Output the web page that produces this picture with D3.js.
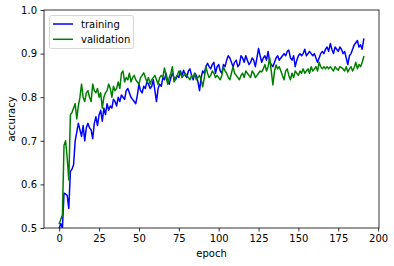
<!DOCTYPE html>
<html><head><meta charset="utf-8">
<script src="https://cdn.jsdelivr.net/npm/d3@7"></script>
<style>body{margin:0;background:#fff}svg{display:block}text{font-family:"DejaVu Sans",sans-serif;fill:#000}</style>
</head><body><svg id="c" width="394" height="266"></svg>
<script>
const training = [0.50,0.51,0.50,0.58,0.578,0.575,0.545,0.63,0.635,0.645,0.70,0.72,0.74,0.725,0.71,0.735,0.70,0.73,0.74,0.73,
0.725,0.705,0.74,0.755,0.735,0.76,0.77,0.745,0.775,0.76,0.785,0.77,0.78,0.775,0.795,0.79,0.78,0.80,0.79,0.805,
0.80,0.795,0.815,0.82,0.81,0.80,0.795,0.79,0.785,0.805,0.83,0.815,0.81,0.825,0.82,0.835,0.83,0.82,0.825,0.84,
0.815,0.79,0.82,0.83,0.825,0.845,0.84,0.855,0.835,0.83,0.845,0.855,0.845,0.84,0.85,0.845,0.86,0.85,0.862,0.85,
0.845,0.86,0.865,0.85,0.84,0.855,0.85,0.835,0.815,0.845,0.86,0.855,0.87,0.878,0.87,0.865,0.875,0.88,0.855,0.87,
0.875,0.86,0.855,0.875,0.87,0.885,0.895,0.89,0.88,0.87,0.88,0.885,0.87,0.875,0.895,0.89,0.88,0.895,0.885,0.875,
0.88,0.89,0.885,0.87,0.89,0.912,0.895,0.88,0.89,0.895,0.885,0.905,0.88,0.875,0.87,0.88,0.89,0.895,0.885,0.89,
0.895,0.90,0.895,0.905,0.908,0.89,0.885,0.895,0.87,0.885,0.895,0.90,0.895,0.90,0.91,0.895,0.90,0.905,0.90,0.895,
0.90,0.89,0.88,0.89,0.90,0.905,0.90,0.91,0.915,0.905,0.923,0.91,0.90,0.915,0.91,0.905,0.915,0.91,0.90,0.905,
0.89,0.875,0.895,0.90,0.91,0.92,0.925,0.93,0.915,0.92,0.91,0.933];
const validation = [0.51,0.52,0.53,0.69,0.70,0.66,0.61,0.76,0.765,0.775,0.785,0.75,0.78,0.80,0.83,0.80,0.79,0.81,0.815,0.80,
0.79,0.83,0.815,0.81,0.82,0.80,0.81,0.775,0.80,0.81,0.815,0.83,0.82,0.80,0.825,0.815,0.82,0.835,0.82,0.855,
0.86,0.835,0.845,0.84,0.855,0.835,0.845,0.85,0.84,0.835,0.83,0.845,0.85,0.856,0.845,0.835,0.845,0.83,0.84,0.845,
0.85,0.84,0.83,0.845,0.85,0.845,0.867,0.85,0.83,0.845,0.855,0.87,0.835,0.845,0.85,0.86,0.855,0.845,0.85,0.855,
0.85,0.845,0.84,0.85,0.845,0.855,0.84,0.845,0.85,0.84,0.824,0.845,0.87,0.855,0.845,0.85,0.86,0.855,0.845,0.85,
0.845,0.84,0.85,0.87,0.86,0.855,0.845,0.84,0.855,0.87,0.855,0.85,0.845,0.84,0.85,0.855,0.845,0.86,0.855,0.85,
0.845,0.86,0.855,0.845,0.85,0.855,0.86,0.858,0.865,0.875,0.86,0.87,0.89,0.86,0.828,0.86,0.874,0.865,0.87,0.86,
0.85,0.84,0.86,0.865,0.85,0.84,0.855,0.845,0.86,0.855,0.85,0.86,0.855,0.865,0.855,0.86,0.865,0.855,0.87,0.86,
0.865,0.87,0.86,0.88,0.87,0.865,0.87,0.865,0.87,0.865,0.87,0.865,0.86,0.87,0.865,0.862,0.87,0.868,0.865,0.86,
0.87,0.858,0.865,0.87,0.86,0.868,0.88,0.865,0.875,0.87,0.88,0.893];
const xTicks = [0,25,50,75,100,125,150,175,200];
const yTicks = [0.5,0.6,0.7,0.8,0.9,1.0];
const seriesNames = ["training","validation"];
const seriesColors = ["#0000ff","#008000"];

const svg = d3.select("#c");
const L=44, R=379, T=10, B=228;
const n = training.length;
const x = d3.scaleLinear().domain([-(n-1)*0.05,(n-1)*1.05]).range([L,R]);
const y = d3.scaleLinear().domain([0.5,1.0]).range([B,T]);

svg.append("clipPath").attr("id","cp").append("rect").attr("x",L).attr("y",T).attr("width",R-L).attr("height",B-T);
const g = svg.append("g").attr("clip-path","url(#cp)");
const line = d3.line().x((d,i)=>x(i)).y(d=>y(d));
[training,validation].forEach((s,k)=>{
  g.append("path").attr("d",line(s)).attr("fill","none").attr("stroke",seriesColors[k]).attr("stroke-width",1.5).attr("stroke-linejoin","round").attr("stroke-linecap","square");
});

const xa = svg.append("g").attr("transform",`translate(0,${B})`).call(d3.axisBottom(x).tickValues(xTicks).tickFormat(d3.format("d")).tickSize(3.5).tickPadding(3.5));
const ya = svg.append("g").attr("transform",`translate(${L},0)`).call(d3.axisLeft(y).tickValues(yTicks).tickFormat(d3.format(".1f")).tickSize(3.5).tickPadding(3.5));
[xa,ya].forEach(a=>{a.select(".domain").remove();a.selectAll("line").attr("stroke","#000").attr("stroke-width",0.8);a.selectAll("text").attr("font-size",10).attr("font-family","DejaVu Sans").attr("fill","#000");});
svg.append("rect").attr("x",L).attr("y",T).attr("width",R-L).attr("height",B-T).attr("fill","none").attr("stroke","#000").attr("stroke-width",0.8);

svg.append("text").attr("x",(L+R)/2).attr("y",257).attr("text-anchor","middle").attr("font-size",10).text("epoch");
svg.append("text").attr("transform",`translate(15,${(T+B)/2}) rotate(-90)`).attr("text-anchor","middle").attr("font-size",10).text("accuracy");

const lg = svg.append("g");
lg.append("rect").attr("x",49.5).attr("y",15.5).attr("width",84).attr("height",33).attr("rx",2).attr("fill","#fff").attr("fill-opacity",0.8).attr("stroke","#ccc").attr("stroke-width",0.8);
seriesNames.forEach((nm,k)=>{
  const yy = 24 + k*15.3;
  lg.append("line").attr("x1",53).attr("x2",73).attr("y1",yy).attr("y2",yy).attr("stroke",seriesColors[k]).attr("stroke-width",1.5);
  lg.append("text").attr("x",81).attr("y",yy).attr("dy","0.35em").attr("font-size",10).text(nm);
});
</script></body></html>
